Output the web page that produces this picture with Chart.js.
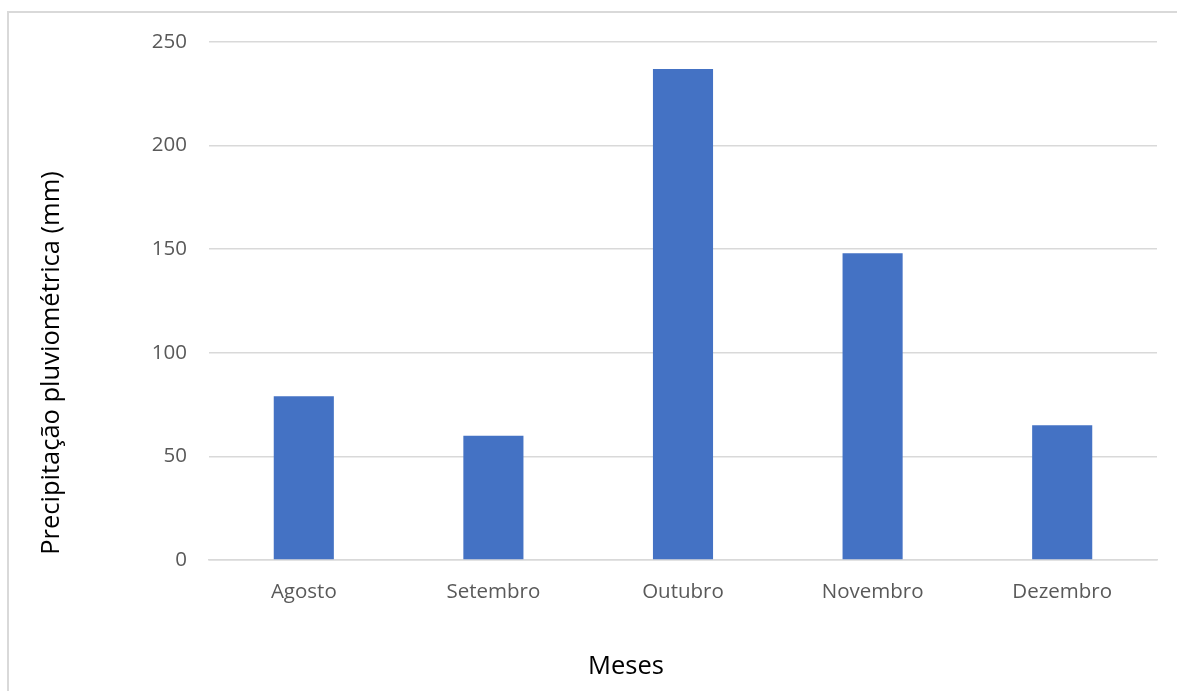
<!DOCTYPE html>
<html>
<head>
<meta charset="utf-8">
<script src="https://cdn.jsdelivr.net/npm/chart.js@4"></script>
<style>
  html, body { margin: 0; padding: 0; background: #fff; overflow: hidden; width: 1177px; height: 691px; }
  #wrap { position: absolute; left: 0; top: 0; width: 1177px; height: 691px; }
</style>
</head>
<body>
<div id="wrap"><canvas id="c" width="1177" height="691"></canvas></div>
<script>
const categories = ["Agosto", "Setembro", "Outubro", "Novembro", "Dezembro"];
const precipitation = [79, 60, 237, 148, 65];
const yTicks = [0, 50, 100, 150, 200, 250];
const xTitle = "Meses";
const yTitle = "Precipitação pluviométrica (mm)";

const FONT = "'Open Sans', sans-serif";

const framePlugin = {
  id: 'frame',
  beforeDraw(chart) {
    const ctx = chart.ctx;
    ctx.save();
    ctx.strokeStyle = '#d9d9d9';
    ctx.lineWidth = 2;
    ctx.beginPath();
    ctx.moveTo(8, chart.height + 5);
    ctx.lineTo(8, 12);
    ctx.lineTo(chart.width + 5, 12);
    ctx.stroke();
    ctx.restore();
  }
};

const titlePlugin = {
  id: 'customTitles',
  afterDraw(chart) {
    const ctx = chart.ctx;
    ctx.save();
    ctx.fillStyle = '#000000';
    ctx.font = "25.5px " + FONT;
    ctx.textAlign = 'center';
    ctx.textBaseline = 'middle';
    ctx.fillText(xTitle, 626, 667);
    ctx.translate(52, 363);
    ctx.rotate(-Math.PI / 2);
    ctx.fillText(yTitle, 0, 0);
    ctx.restore();
  }
};

new Chart(document.getElementById('c'), {
  type: 'bar',
  data: {
    labels: categories,
    datasets: [{
      data: precipitation,
      backgroundColor: '#4472C4',
      borderWidth: 0,
      categoryPercentage: 1.0,
      barPercentage: 0.317
    }]
  },
  options: {
    responsive: false,
    animation: false,
    layout: { padding: { top: 42, right: 20, left: 0, bottom: 0 } },
    plugins: { legend: { display: false }, tooltip: { enabled: false } },
    scales: {
      x: {
        grid: { display: false, drawTicks: false },
        border: { display: true, color: '#d9d9d9', width: 1.5 },
        ticks: { font: { family: FONT, size: 20.5 }, color: '#595959', padding: 20 },
        afterFit(scale) { scale.height = 131; }
      },
      y: {
        min: 0, max: 250,
        afterBuildTicks(scale) { scale.ticks = yTicks.map(v => ({ value: v })); },
        grid: { color: '#d9d9d9', lineWidth: 1.5, drawTicks: false },
        border: { display: false },
        ticks: { font: { family: FONT, size: 20.5 }, color: '#595959', padding: 22 },
        afterFit(scale) { scale.width = 209; }
      }
    }
  },
  plugins: [framePlugin, titlePlugin]
});
</script>
</body>
</html>
